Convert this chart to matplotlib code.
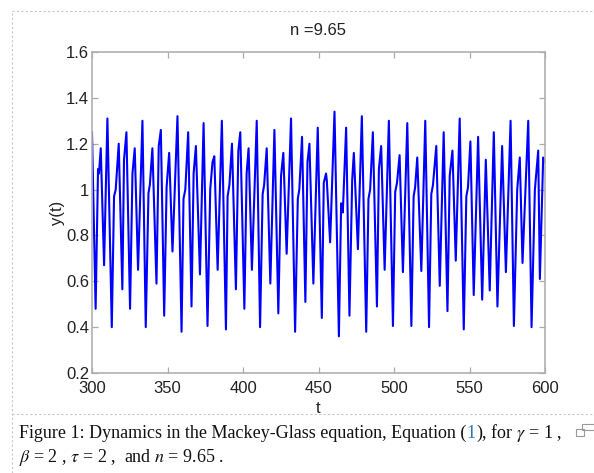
import matplotlib
matplotlib.use("Agg")
import matplotlib.pyplot as plt
from matplotlib.lines import Line2D
from matplotlib.patches import Rectangle

# time points and y(t) values (peaks, troughs, shoulders)
t_vals = [300.0, 302.4, 304.0, 304.6, 305.8, 308.0, 310.2, 313.1, 314.6, 315.7,
          317.7, 320.1, 321.2, 322.8, 325.2, 326.8, 328.3, 330.5, 333.4, 335.6,
          337.4, 338.3, 340.0, 342.7, 344.2, 345.6, 347.8, 349.4, 351.1, 353.3,
          356.6, 359.3, 360.6, 361.8, 363.7, 365.9, 367.3, 368.8, 371.5, 373.9,
          376.5, 378.3, 379.8, 381.0, 383.2, 386.0, 388.7, 389.8, 391.0, 392.7,
          395.3, 396.9, 398.2, 400.9, 402.4, 403.7, 405.9, 409.1, 411.3, 413.0,
          414.0, 415.7, 418.1, 420.8, 423.4, 425.2, 426.7, 428.9, 431.8, 434.5,
          436.3, 437.3, 439.1, 441.3, 442.7, 444.0, 446.6, 449.5, 452.2, 453.5,
          455.0, 455.5, 457.7, 460.6, 463.5, 465.0, 466.1, 468.3, 470.5, 472.3,
          473.4, 476.1, 478.7, 481.6, 483.1, 484.2, 486.0, 488.7, 490.0, 491.5,
          493.8, 496.6, 499.3, 500.8, 502.0, 503.7, 505.9, 508.8, 511.5, 513.0,
          514.0, 515.4, 518.1, 520.7, 523.2, 524.7, 525.8, 528.0, 530.3, 532.9,
          535.4, 536.9, 538.7, 540.9, 543.5, 546.2, 547.9, 549.0, 550.6, 552.8,
          555.7, 558.4, 560.8, 563.4, 566.1, 568.5, 571.6, 574.1, 577.2, 579.4,
          581.6, 583.3, 585.1, 588.9, 591.1, 593.3, 595.5, 596.6, 598.8, 600.0]
y_vals = [1.25, 0.48, 1.09, 1.07, 1.18, 0.67, 1.31, 0.40, 0.97, 1.00,
          1.20, 0.565, 1.13, 1.25, 0.48, 1.07, 1.18, 0.65, 1.30, 0.40,
          0.985, 1.02, 1.18, 0.59, 1.19, 1.26, 0.45, 1.01, 1.16, 0.73,
          1.32, 0.38, 0.96, 1.00, 1.25, 0.49, 1.07, 1.19, 0.63, 1.29,
          0.405, 1.00, 1.12, 1.145, 0.65, 1.30, 0.39, 0.97, 1.02, 1.20,
          0.565, 1.17, 1.25, 0.48, 1.07, 1.18, 0.65, 1.30, 0.40, 0.98,
          1.02, 1.18, 0.59, 1.26, 0.46, 1.06, 1.16, 0.72, 1.31, 0.38,
          0.96, 1.00, 1.23, 0.51, 1.12, 1.20, 0.59, 1.27, 0.44, 1.03,
          1.07, 1.04, 0.77, 1.34, 0.36, 0.94, 0.90, 1.27, 0.45, 1.04,
          1.16, 0.74, 1.32, 0.38, 0.96, 1.00, 1.25, 0.49, 1.09, 1.19,
          0.65, 1.30, 0.405, 0.99, 1.03, 1.15, 0.64, 1.29, 0.405, 0.97,
          1.01, 1.14, 0.645, 1.30, 0.40, 0.98, 1.02, 1.19, 0.58, 1.25,
          0.47, 1.06, 1.17, 0.69, 1.31, 0.39, 0.97, 1.01, 1.21, 0.54,
          1.23, 0.52, 1.13, 0.56, 1.25, 0.49, 1.19, 0.64, 1.30, 0.405,
          1.00, 1.14, 0.68, 1.30, 0.40, 1.00, 1.17, 0.61, 1.14, 1.12]

x_ticks = [300, 350, 400, 450, 500, 550, 600]
y_ticks = [0.2, 0.4, 0.6, 0.8, 1.0, 1.2, 1.4, 1.6]
y_tick_labels = ["0.2", "0.4", "0.6", "0.8", "1", "1.2", "1.4", "1.6"]

plt.rcParams["font.family"] = ["Liberation Sans", "DejaVu Sans"]
plt.rcParams["mathtext.fontset"] = "stix"

fig = plt.figure(figsize=(5.94, 4.73), dpi=100)
ax = fig.add_axes([92 / 594, 1 - 373 / 473, 453 / 594, 321 / 473])

ax.plot(t_vals, y_vals, color="#0000ff", lw=1.5)
ax.set_xlim(300, 600)
ax.set_ylim(0.2, 1.6)
ax.set_xticks(x_ticks)
ax.set_yticks(y_ticks)
ax.set_yticklabels(y_tick_labels)
ax.tick_params(direction="in", top=True, right=True, length=4, width=0.9,
               colors="#aaaaaa", labelcolor="#222222", labelsize=12, pad=2)
ax.tick_params(axis="x", pad=6)
for s in ax.spines.values():
    s.set_color("#b0b0b0")
    s.set_linewidth(1.2)
ax.set_title("n =9.65", fontsize=12, color="#222222", pad=12)
ax.set_xlabel("t", fontsize=12, color="#222222", labelpad=3)
ax.set_ylabel("y(t)", fontsize=12, color="#222222", labelpad=1)

# dashed frame around the figure
dash = dict(color="#c8c8c8", lw=0.8, linestyle=(0, (2, 2)), transform=fig.transFigure)
fig.add_artist(Line2D([12 / 594, 1], [1 - 11 / 473] * 2, **dash))
fig.add_artist(Line2D([12 / 594] * 2, [0, 1 - 11 / 473], **dash))
fig.add_artist(Line2D([12 / 594, 1], [1 - 414 / 473] * 2, **dash))

# caption
cap = dict(fontsize=13, family=["Liberation Serif", "DejaVu Serif"], color="#111111",
           va="baseline", ha="left")
fig.canvas.draw()
r = fig.canvas.get_renderer()
x = 19 / 594
y1 = 1 - 438 / 473
parts = [("Figure 1: Dynamics in the Mackey-Glass equation, Equation (", "#111111"),
         ("1", "#2a7ab0"),
         ("), for $\\gamma$ = 1 ,", "#111111")]
for txt, col in parts:
    tt = fig.text(x, y1, txt, **{**cap, "color": col})
    x += tt.get_window_extent(r).width / 594
fig.text(19 / 594, 1 - 462 / 473, "$\\beta$ = 2 , $\\tau$ = 2 ,  and $n$ = 9.65 .", **cap)

# small icon at caption end
fig.add_artist(Rectangle((576 / 594, 1 - 436 / 473), 8 / 594, 7 / 473, fill=False,
                         ec="#999999", lw=0.8, transform=fig.transFigure))
fig.add_artist(Rectangle((582 / 594, 1 - 430 / 473), 12 / 594, 6 / 473, fill=False,
                         ec="#999999", lw=0.8, transform=fig.transFigure))

fig.savefig("out.png", dpi=100)
